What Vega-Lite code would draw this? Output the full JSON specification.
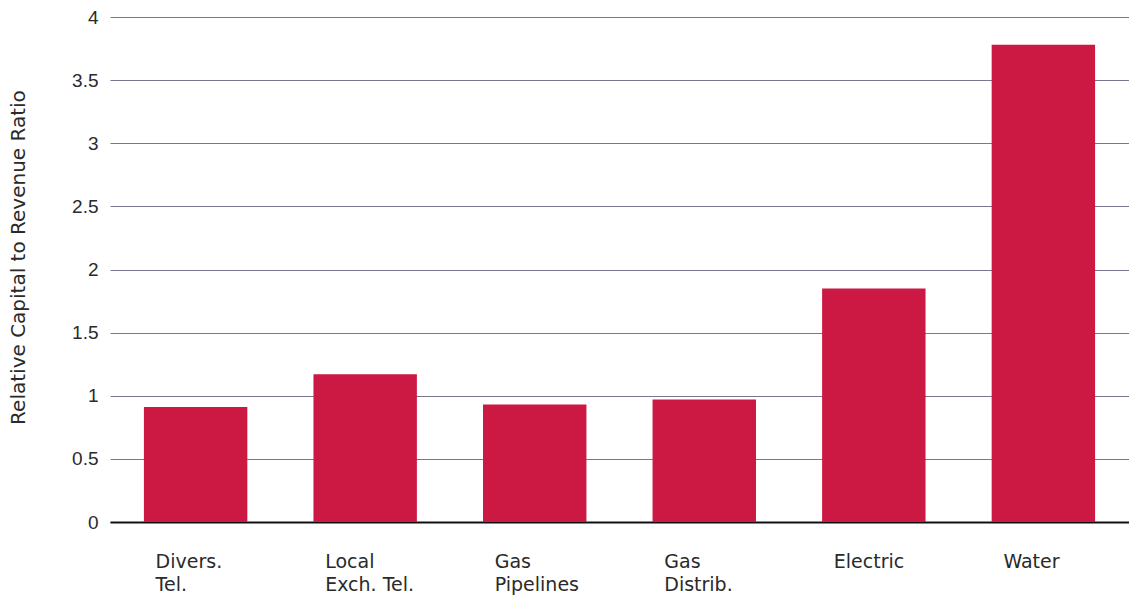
{
  "$schema": "https://vega.github.io/schema/vega-lite/v6.json",
  "autosize": "none",
  "width": 1019,
  "height": 505,
  "padding": {"left": 110, "top": 17, "right": 0, "bottom": 78},
  "background": "white",
  "config": {"view": {"stroke": null}, "font": "Liberation Sans"},
  "data": {
    "values": [
      {"industry": "Divers.\nTel.", "ratio": 0.91},
      {"industry": "Local\nExch. Tel.", "ratio": 1.17},
      {"industry": "Gas\nPipelines", "ratio": 0.93},
      {"industry": "Gas\nDistrib.", "ratio": 0.97},
      {"industry": "Electric", "ratio": 1.85},
      {"industry": "Water", "ratio": 3.78}
    ]
  },
  "mark": {"type": "bar", "color": "#cb1944"},
  "encoding": {
    "x": {
      "field": "industry",
      "type": "nominal",
      "sort": null,
      "scale": {"paddingInner": 0.39, "paddingOuter": 0.2},
      "axis": {
        "title": null,
        "labelAngle": 0,
        "labelAlign": "left",
        "labelOffset": -40,
        "labelBaseline": "alphabetic",
        "labelPadding": 45,
        "labelLineHeight": 23,
        "labelFont": "DejaVu Sans",
        "labelFontSize": 19,
        "labelColor": "#2a2a2a",
        "labelExpr": "split(datum.value, '\\n')",
        "ticks": false,
        "domainColor": "#111111",
        "domainWidth": 2
      }
    },
    "y": {
      "field": "ratio",
      "type": "quantitative",
      "scale": {"domain": [0, 4], "nice": false},
      "axis": {
        "values": [0, 0.5, 1, 1.5, 2, 2.5, 3, 3.5, 4],
        "format": "~g",
        "title": "Relative Capital to Revenue Ratio",
        "titleFont": "DejaVu Sans",
        "titleFontSize": 20,
        "titleFontWeight": "normal",
        "titleColor": "#2a2a2a",
        "titleX": -92,
        "titleY": 240,
        "titleAngle": -90,
        "titleAlign": "center",
        "titleBaseline": "middle",
        "labelFontSize": 19,
        "labelColor": "#2a2a2a",
        "labelPadding": 12,
        "ticks": false,
        "domain": false,
        "grid": true,
        "gridColor": "#77778f",
        "gridWidth": 1
      }
    }
  }
}
